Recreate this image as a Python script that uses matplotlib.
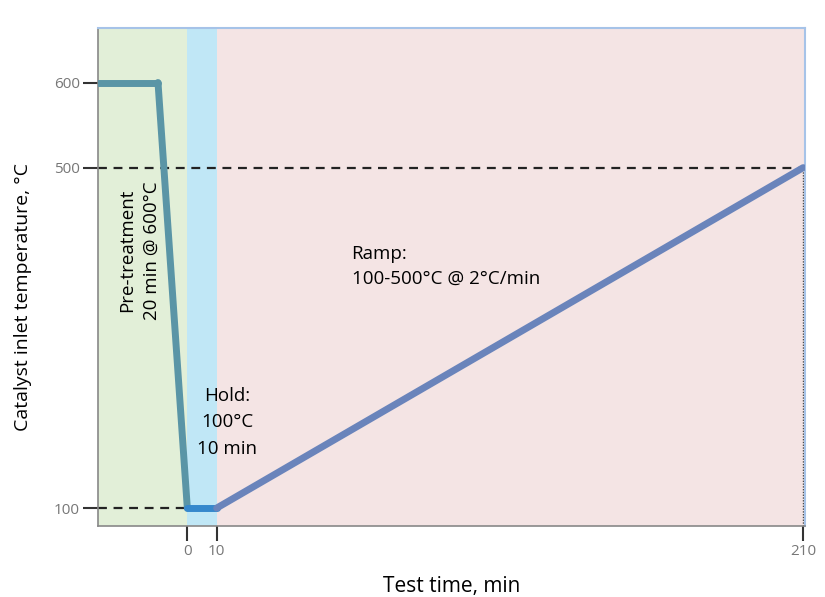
import matplotlib
matplotlib.use("Agg")
import matplotlib.pyplot as plt

plt.rcParams['font.family'] = ['Open Sans', 'DejaVu Sans']

# profile of the test
time_min = [-30.4, -10, 0, 10, 210]
temp_c = [600, 600, 100, 100, 500]
# colour of each segment (pre-treatment, drop, hold, ramp)
seg_color = ['#5a95a6', '#5a95a6', '#3688cc', '#6a84bb']

# phase regions (start, end, colour)
phase_start = [-30.4, 0, 10]
phase_end = [0, 10, 210.7]
phase_color = ['#e2efd8', '#c0e7f6', '#f4e4e4']

xticks = [0, 10, 210]
yticks = [100, 500, 600]

fig = plt.figure(figsize=(8.25, 5.97), dpi=100)
ax = fig.add_axes([0.119, 0.119, 0.857, 0.834])

for a, b, c in zip(phase_start, phase_end, phase_color):
    ax.axvspan(a, b, color=c, lw=0, zorder=0)

# guide lines
ax.plot([-30.4, 210], [500, 500], color='#222222', lw=1.6, ls=(0, (4, 3)), zorder=2)
ax.plot([-30.4, 2], [100, 100], color='#222222', lw=1.6, ls=(0, (4, 3)), zorder=2)
ax.plot([210, 210], [79, 500], color='#444444', lw=1.0, ls=(0, (1, 1)), zorder=2)

for i, c in enumerate(seg_color):
    ax.plot(time_min[i:i + 2], temp_c[i:i + 2], color=c, lw=5,
            solid_capstyle='round', zorder=3 + (i == 3))

ax.set_xlim(-30.4, 210.7)
ax.set_ylim(79, 664)
ax.set_xticks(xticks)
ax.set_yticks(yticks)
ax.tick_params(axis='both', colors='#333333', labelcolor='#777777',
               labelsize=11, length=11, width=1.5, direction='out', pad=2)

for s in ['left', 'bottom']:
    ax.spines[s].set_color('#888888')
    ax.spines[s].set_linewidth(1.2)
for s in ['top', 'right']:
    ax.spines[s].set_color('#a6c3e8')
    ax.spines[s].set_linewidth(1.5)

ax.set_xlabel('Test time, min', fontsize=15, labelpad=12)
ax.set_ylabel('Catalyst inlet temperature, °C', fontsize=14)
ax.yaxis.set_label_coords(-0.094, 0.46)

ax.text(-16.4, 403, 'Pre-treatment\n20 min @ 600°C', rotation=90, fontsize=13.5,
        ha='center', va='center', linespacing=1.5)
ax.text(13.6, 201, 'Hold:\n100°C\n10 min', fontsize=13.5, ha='center', va='center',
        linespacing=1.6)
ax.text(56, 384, 'Ramp:\n100-500°C @ 2°C/min', fontsize=13.5, ha='left', va='center',
        linespacing=1.5)

fig.savefig('out.png', dpi=100)
